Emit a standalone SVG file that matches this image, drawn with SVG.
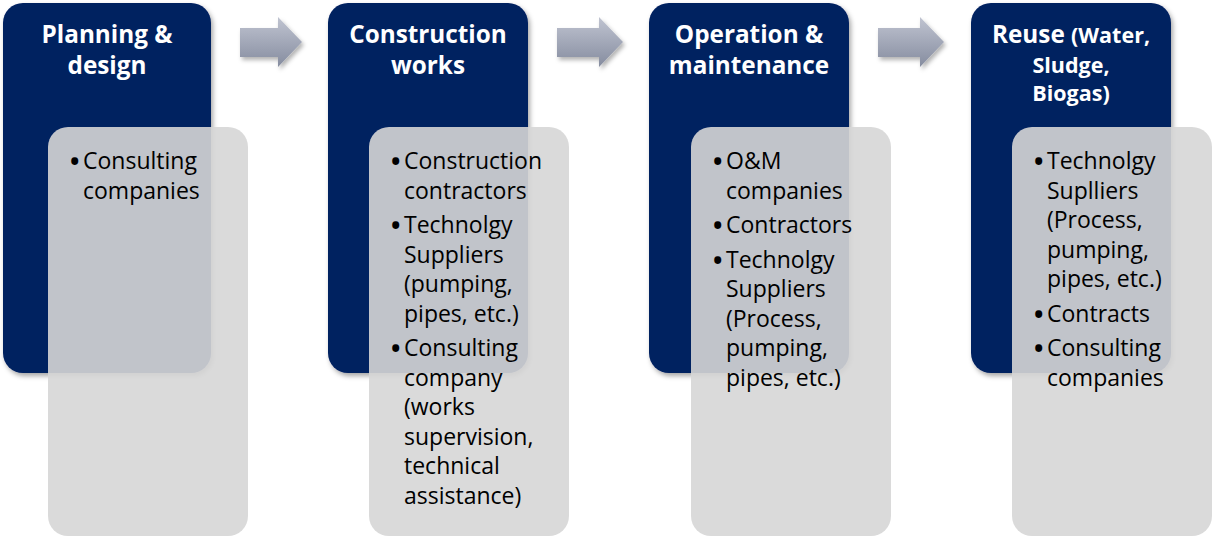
<svg xmlns="http://www.w3.org/2000/svg" width="1212" height="537" viewBox="0 0 1212 537">
<defs>
<linearGradient id="ag" x1="0" y1="0" x2="0" y2="1">
<stop offset="0" stop-color="#C0C4D1"/>
<stop offset="1" stop-color="#858C9F"/>
</linearGradient>
<filter id="sh" x="-10%" y="-10%" width="130%" height="130%">
<feDropShadow dx="2" dy="3" stdDeviation="2.5" flood-color="#000" flood-opacity="0.35"/>
</filter>
<filter id="ash" x="-20%" y="-20%" width="150%" height="160%">
<feDropShadow dx="2" dy="3" stdDeviation="2" flood-color="#000" flood-opacity="0.3"/>
</filter>
</defs>
<style>
.dark{fill:#002060;filter:url(#sh)}
.grey{fill:#D6D6D6;fill-opacity:0.9}
.ttl{font-family:"Open Sans","Liberation Sans",sans-serif;font-weight:bold;font-size:24.3px;fill:#FFFFFF;text-anchor:middle}
.sm{font-size:21.5px}
.bd{font-family:"Open Sans","Liberation Sans",sans-serif;font-size:23px;fill:#000000}
.bl{font-size:25px;font-weight:bold}
.arr{fill:url(#ag);filter:url(#ash)}
</style>

<g id="connectors">
<path class="arr" d="M240,28 H278 V17 L302,42 L278,67 V57 H240 Z"/>
<path class="arr" d="M557,28 H599 V17 L623,42 L599,67 V57 H557 Z"/>
<path class="arr" d="M878,28 H920 V17 L944,42 L920,67 V57 H878 Z"/>
</g>

<g id="node1">
<rect class="dark" x="3" y="3" width="208" height="370" rx="20"/>
<text class="ttl"><tspan x="107" y="43">Planning &amp;</tspan><tspan x="107" y="74">design</tspan></text>
<rect class="grey" x="48" y="127" width="200" height="409" rx="20"/>
<text class="bd"><tspan class="bl" x="70" y="170">•</tspan><tspan x="83" y="169">Consulting</tspan><tspan x="83" y="198.5">companies</tspan></text>
</g>

<g id="node2">
<rect class="dark" x="328" y="3" width="200" height="370" rx="20"/>
<text class="ttl"><tspan x="428" y="43">Construction</tspan><tspan x="428" y="74">works</tspan></text>
<rect class="grey" x="369" y="127" width="200" height="409" rx="20"/>
<text class="bd">
<tspan class="bl" x="391" y="170">•</tspan><tspan x="404" y="169">Construction</tspan>
<tspan x="404" y="198.5">contractors</tspan>
<tspan class="bl" x="391" y="234">•</tspan><tspan x="404" y="233">Technolgy</tspan>
<tspan x="404" y="262.5">Suppliers</tspan>
<tspan x="404" y="292">(pumping,</tspan>
<tspan x="404" y="321.5">pipes, etc.)</tspan>
<tspan class="bl" x="391" y="357">•</tspan><tspan x="404" y="356">Consulting</tspan>
<tspan x="404" y="385.5">company</tspan>
<tspan x="404" y="415">(works</tspan>
<tspan x="404" y="444.5">supervision,</tspan>
<tspan x="404" y="474">technical</tspan>
<tspan x="404" y="503.5">assistance)</tspan>
</text>
</g>

<g id="node3">
<rect class="dark" x="649" y="3" width="200" height="370" rx="20"/>
<text class="ttl"><tspan x="749" y="43">Operation &amp;</tspan><tspan x="749" y="74">maintenance</tspan></text>
<rect class="grey" x="691" y="127" width="200" height="409" rx="20"/>
<text class="bd">
<tspan class="bl" x="713" y="170">•</tspan><tspan x="726" y="169">O&amp;M</tspan>
<tspan x="726" y="198.5">companies</tspan>
<tspan class="bl" x="713" y="234">•</tspan><tspan x="726" y="233">Contractors</tspan>
<tspan class="bl" x="713" y="268.5">•</tspan><tspan x="726" y="267.5">Technolgy</tspan>
<tspan x="726" y="297">Suppliers</tspan>
<tspan x="726" y="326.5">(Process,</tspan>
<tspan x="726" y="356">pumping,</tspan>
<tspan x="726" y="385.5">pipes, etc.)</tspan>
</text>
</g>

<g id="node4">
<rect class="dark" x="971" y="3" width="200" height="370" rx="20"/>
<text class="ttl"><tspan x="1071" y="43">Reuse <tspan class="sm">(Water,</tspan></tspan><tspan class="sm" x="1071" y="73">Sludge,</tspan><tspan class="sm" x="1071" y="101">Biogas)</tspan></text>
<rect class="grey" x="1012" y="127" width="200" height="409" rx="20"/>
<text class="bd">
<tspan class="bl" x="1034" y="170">•</tspan><tspan x="1047" y="169">Technolgy</tspan>
<tspan x="1047" y="198.5">Suplliers</tspan>
<tspan x="1047" y="228">(Process,</tspan>
<tspan x="1047" y="257.5">pumping,</tspan>
<tspan x="1047" y="287">pipes, etc.)</tspan>
<tspan class="bl" x="1034" y="322.5">•</tspan><tspan x="1047" y="321.5">Contracts</tspan>
<tspan class="bl" x="1034" y="357">•</tspan><tspan x="1047" y="356">Consulting</tspan>
<tspan x="1047" y="385.5">companies</tspan>
</text>
</g>
</svg>
